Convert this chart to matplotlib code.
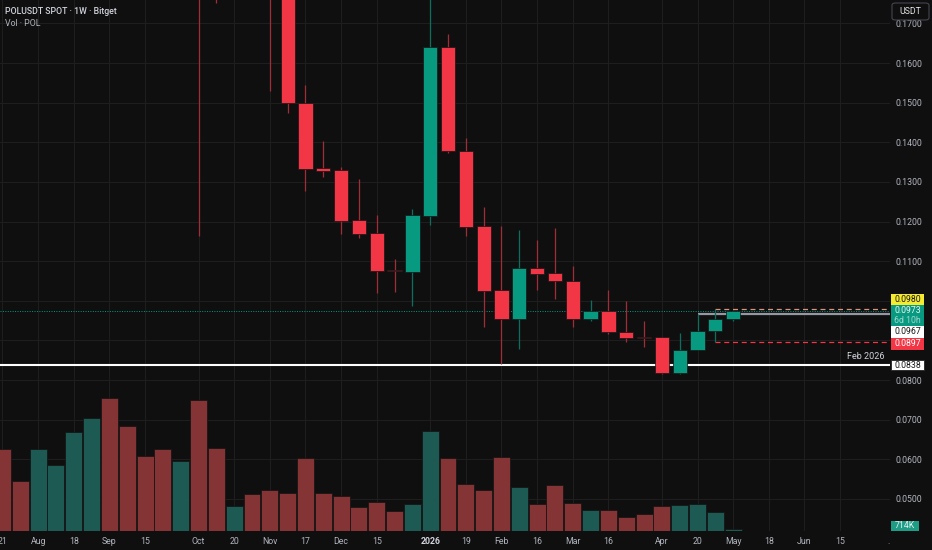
import numpy as np
import matplotlib
matplotlib.use("Agg")
import matplotlib.pyplot as plt
from matplotlib.patches import Rectangle, FancyBboxPatch
from matplotlib.transforms import blended_transform_factory

plt.rcParams['font.family'] = ['Roboto', 'DejaVu Sans']

# weekly candles POLUSDT, week of 2025-07-21 .. 2026-05-04
opens = [0.2650, 0.2420, 0.2290, 0.2430, 0.2540, 0.2660, 0.2760, 0.2580, 0.2410, 0.2340,
         0.2260, 0.2400, 0.2000, 0.1860, 0.1980, 0.1860, 0.1780, 0.1500, 0.1335, 0.1330,
         0.1204, 0.1171, 0.1077, 0.1072, 0.1214, 0.1640, 0.1377, 0.1188, 0.1027, 0.0954,
         0.1083, 0.1070, 0.1050, 0.0954, 0.0974, 0.0922, 0.0908, 0.0908, 0.0817, 0.0876,
         0.0924, 0.0955]
highs = [0.2750, 0.2500, 0.2480, 0.2590, 0.2720, 0.2900, 0.2800, 0.2640, 0.2500, 0.2420,
         0.2480, 0.2520, 0.2100, 0.2060, 0.2050, 0.1920, 0.1800, 0.1544, 0.1403, 0.1337,
         0.1307, 0.1216, 0.1105, 0.1231, 0.1800, 0.1674, 0.1411, 0.1236, 0.1188, 0.1178,
         0.1153, 0.1183, 0.1088, 0.1002, 0.1027, 0.0999, 0.0950, 0.0908, 0.0918, 0.0967,
         0.0980, 0.0975]
lows = [0.2380, 0.2240, 0.2210, 0.2380, 0.2460, 0.2580, 0.2520, 0.2360, 0.2290, 0.2240,
        0.2200, 0.1163, 0.1751, 0.1800, 0.1820, 0.1529, 0.1474, 0.1277, 0.1312, 0.1168,
        0.1158, 0.1020, 0.1023, 0.0987, 0.1191, 0.1374, 0.1163, 0.0934, 0.0840, 0.0879,
        0.1027, 0.1005, 0.0934, 0.0949, 0.0916, 0.0896, 0.0884, 0.0814, 0.0815, 0.0876,
        0.0897, 0.0950]
closes = [0.2420, 0.2290, 0.2430, 0.2540, 0.2660, 0.2760, 0.2580, 0.2410, 0.2340, 0.2260,
          0.2400, 0.2000, 0.1860, 0.1980, 0.1860, 0.1780, 0.1500, 0.1332, 0.1327, 0.1202,
          0.1169, 0.1075, 0.1074, 0.1216, 0.1640, 0.1377, 0.1185, 0.1025, 0.0954, 0.1083,
          0.1068, 0.1050, 0.0954, 0.0974, 0.0921, 0.0907, 0.0907, 0.0817, 0.0877, 0.0924,
          0.0954, 0.0973]
# volume in thousands of POL
volumes = [29300, 17900, 29300, 23700, 35500, 40500, 47400, 37400, 26900, 29300,
           25100, 46700, 29500, 8800, 13100, 14600, 13400, 26200, 13400, 12600,
           8500, 10500, 7000, 9500, 35700, 26000, 16800, 14600, 26600, 15600,
           9800, 16300, 10000, 7600, 7400, 5000, 5900, 9100, 9200, 9800,
           6800, 714]

tick_pos = [0, 2, 4, 6, 8, 11, 13, 15, 17, 19, 21, 24, 26, 28, 30, 32, 34, 37, 39, 41, 43, 45, 47]
tick_text = ['21', 'Aug', '18', 'Sep', '15', 'Oct', '20', 'Nov', '17', 'Dec', '15', '2026',
             '19', 'Feb', '16', 'Mar', '16', 'Apr', '20', 'May', '18', 'Jun', '15']
price_ticks = [0.05, 0.06, 0.07, 0.08, 0.09, 0.10, 0.11, 0.12, 0.13, 0.14, 0.15, 0.16, 0.17]
hidden_ticks = [0.09, 0.10]   # covered by the price tags on the axis

level = 0.0838
level_name = 'Feb 2026'
time_left = '6d 10h'

BG = '#0f0f0f'
GRID = '#1e1e1e'
TXT = '#b2b5be'
UP, DOWN = '#089981', '#f23645'
W, H = 932, 550

o = np.array(opens); hi = np.array(highs); lo = np.array(lows); c = np.array(closes)
v = np.array(volumes)
n = len(o)
x = np.arange(n)
up = c >= o

fig = plt.figure(figsize=(W / 100, H / 100), dpi=100, facecolor=BG)
ax = fig.add_axes([0, 19 / H, 890 / W, 531 / H], facecolor=BG)
ax.set_xlim(-0.14, 49.8)
ax.set_ylim(0.0419, 0.1759)
for s in ax.spines.values():
    s.set_visible(False)
ax.grid(True, color=GRID, lw=0.8)
ax.set_axisbelow(True)

# volume overlay
ax2 = ax.twinx()
ax2.set_ylim(0, v.max() * 4.0)
ax2.bar(x, v, width=0.95, color=np.where(up, '#1d5a53', '#843435'),
        edgecolor='#121212', lw=0.5, zorder=1)
ax2.set_yticks([])
for s in ax2.spines.values():
    s.set_visible(False)

# candles
ax.vlines(x, lo, hi, colors=np.where(up, '#0b6f5f', '#a12d38'), lw=0.9, zorder=3)
body_h = np.maximum(np.abs(c - o), 0.00025)
ax.bar(x, body_h, bottom=np.minimum(o, c), width=0.8, color=np.where(up, UP, DOWN),
       edgecolor='#151515', lw=0.5, zorder=4)

# horizontal level and price lines
ax.axhline(level, color='white', lw=1.5, zorder=2)
tr = blended_transform_factory(ax.transAxes, ax.transData)
ax.annotate(level_name, (0.994, level), xycoords=tr, xytext=(0, 2.5), textcoords='offset points',
            ha='right', va='bottom', fontsize=6.5, color='#d1d4dc')
ax.axhline(c[-1], color=UP, ls=(0, (1, 1.5)), lw=0.7, zorder=2)
ax.hlines(hi[-3], n - 3, 49.8, color='#9598a1', lw=1.6, zorder=2)
ax.hlines(hi[-2], n - 2, 49.8, color='#e0907c', ls=(0, (4, 3)), lw=0.9, zorder=2)
ax.hlines(lo[-2], n - 2, 49.8, color=DOWN, ls=(0, (4, 3)), lw=0.9, zorder=2)

# axes ticks
ax.yaxis.tick_right()
ax.set_yticks(price_ticks, ['' if p in hidden_ticks else f'{p:.4f}' for p in price_ticks])
ax.set_xticks(tick_pos, tick_text)
ax.tick_params(axis='both', length=0, labelsize=6.3, labelcolor=TXT)
ax.tick_params(axis='y', pad=4)
ax.tick_params(axis='x', pad=4)
for lab in ax.get_xticklabels():
    if lab.get_text() == '2026':
        lab.set_fontweight('bold')
        lab.set_color('#d1d4dc')
fig.text(889 / W, 1 - 541 / H, '.', color=TXT, fontsize=6.3, ha='center', va='center')


def fy(y):
    return 1 - y / H


def tag(y0, y1, face, lines, colors, x0=891, x1=924, edge='none'):
    fig.add_artist(Rectangle((x0 / W, fy(y1)), (x1 - x0) / W, (y1 - y0) / H,
                             transform=fig.transFigure, facecolor=face, edgecolor=edge,
                             lw=0.6, zorder=10))
    k = len(lines)
    for i, (t, col) in enumerate(zip(lines, colors)):
        yy = y0 + (y1 - y0) * (i + 0.5) / k
        fig.text((x0 + x1) / 2 / W, fy(yy), t, ha='center', va='center', fontsize=6.3,
                 color=col, zorder=11)


tag(294, 305, '#f5ea2f', [f'{hi[-2]:.4f}'], ['#1a1a1a'])
tag(305, 326, UP, [f'{c[-1]:.4f}', time_left], ['#e8f5f2', '#9fd8cd'])
tag(326, 338, '#ffffff', [f'{hi[-3]:.4f}'], ['#1a1a1a'])
tag(338, 350, DOWN, [f'{lo[-2]:.4f}'], ['#ffffff'])
ly = H - ax.transData.transform((0, level))[1]
tag(ly - 5, ly + 5.5, '#ffffff', [f'{level:.4f}'], ['#1a1a1a'], edge='#222222')
tag(521, 531, '#1f9c86', [f'{v[-1]:.0f}K'], ['#dff3ef'], x1=919)

# currency button
fig.add_artist(FancyBboxPatch((892 / W, fy(20)), 37 / W, 17 / H, boxstyle='round,pad=0,rounding_size=0.004',
                              transform=fig.transFigure, facecolor=BG, edgecolor='#434651', lw=0.8, zorder=10))
fig.text(910.5 / W, fy(11.5), 'USDT', ha='center', va='center', fontsize=6.3, color='#e6e6e6', zorder=11)

# legend text
fig.text(5 / W, fy(11), 'POLUSDT SPOT · 1W · Bitget', ha='left', va='center', fontsize=6.3,
         color='#d1d4dc', fontweight='medium')
fig.text(5 / W, fy(24), 'Vol · POL', ha='left', va='center', fontsize=6.3, color='#b2b5be')

fig.savefig('out.png', dpi=100, facecolor=BG)
